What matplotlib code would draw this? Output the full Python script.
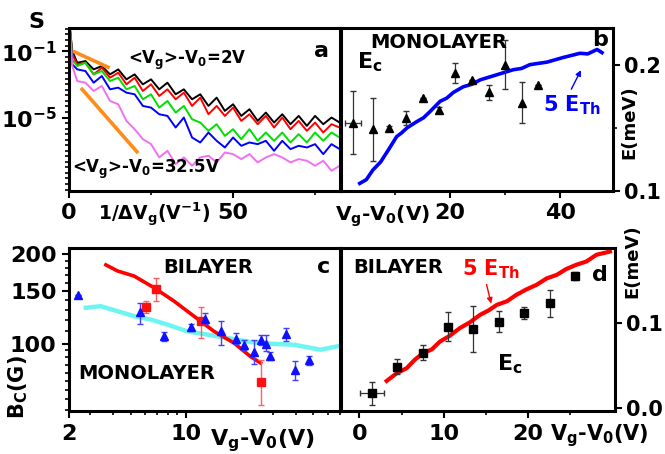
import numpy as np
import matplotlib.pyplot as plt
from matplotlib.ticker import FixedLocator, NullFormatter, FixedFormatter, LogLocator

plt.rcParams["font.family"] = ["DejaVu Sans"]
plt.rcParams["font.weight"] = "bold"
plt.rcParams["mathtext.default"] = "bf"
plt.rcParams["axes.linewidth"] = 2.2
plt.rcParams["xtick.major.width"] = 1.5
plt.rcParams["ytick.major.width"] = 1.5
plt.rcParams["xtick.minor.width"] = 1.2
plt.rcParams["ytick.minor.width"] = 1.2
plt.rcParams["xtick.major.size"] = 5
plt.rcParams["ytick.major.size"] = 5
plt.rcParams["xtick.minor.size"] = 3
plt.rcParams["ytick.minor.size"] = 3
plt.rcParams["xtick.labelsize"] = 16
plt.rcParams["ytick.labelsize"] = 16

# %% panel a : S vs 1/dVg  (log10 S)
x_a = [0.3, 1, 2.5, 5, 7.5, 10, 12.5, 15, 17.5, 20, 22.5, 25, 27.5, 30, 32.5, 35,
       37.5, 40, 42.5, 45, 47.5, 50, 52.5, 55, 57.5, 60, 62.5, 65, 67.5, 70,
       72.5, 75, 77.5, 80, 82.5]
logs_black = [0.3, -1.0, -1.7, -1.6, -2.1, -1.9, -2.4, -2.1, -2.7, -2.4, -3.0, -2.7,
              -3.3, -2.9, -3.6, -3.3, -3.9, -3.6, -4.3, -3.8, -4.6, -4.2, -4.9, -4.5,
              -5.2, -4.7, -5.3, -4.8, -5.4, -4.9, -5.5, -4.9, -5.4, -5.0, -5.3]
logs_red = [0.3, -1.2, -1.8, -1.7, -2.4, -2.0, -2.6, -2.3, -3.0, -2.6, -3.4, -3.0,
            -3.7, -3.3, -3.9, -3.5, -4.3, -3.8, -4.8, -4.3, -4.9, -4.4, -5.2, -4.8,
            -5.4, -4.9, -5.6, -5.0, -5.7, -5.2, -5.8, -5.3, -5.9, -5.4, -5.6]
logs_green = [0.3, -1.5, -1.9, -1.7, -2.4, -2.2, -2.8, -2.6, -3.3, -3.1, -3.9, -3.6,
              -4.4, -4.0, -4.7, -4.3, -5.1, -5.3, -5.8, -5.4, -6.1, -5.7, -6.3, -5.7,
              -6.4, -5.9, -6.4, -5.9, -6.5, -6.0, -6.5, -5.9, -6.4, -5.9, -6.2]
logs_blue = [0.3, -1.8, -2.1, -2.2, -2.9, -2.5, -3.3, -3.2, -3.5, -3.6, -4.3, -4.4,
             -4.8, -4.9, -5.6, -5.0, -6.2, -6.5, -5.9, -6.4, -6.8, -6.2, -6.7, -6.5,
             -6.6, -6.4, -7.0, -6.4, -6.9, -6.7, -6.8, -6.6, -7.2, -6.6, -6.9]
logs_violet = [0.3, -1.9, -2.8, -2.9, -3.4, -3.1, -4.0, -4.2, -5.2, -5.7, -6.3, -6.6,
               -7.4, -7.0, -7.8, -7.4, -7.9, -7.4, -7.3, -7.7, -7.1, -7.2, -7.5, -7.2,
               -7.7, -7.4, -7.2, -7.4, -7.7, -7.5, -7.6, -7.9, -7.6, -8.2, -7.9]
fit1_x = [1.8, 11.9]
fit1_logs = [-1.06, -1.97]
fit2_x = [4.0, 20.7]
fit2_logs = [-3.3, -7.06]

# %% panel b : monolayer energies
eth_mono_x = [3.6, 4.8, 6.0, 7.4, 8.8, 10.3, 11.2, 12.2, 14.0, 15.2, 16.4, 18.2, 19.4,
              20.6, 22.4, 24.0, 25.5, 28.5, 31.5, 33.0, 34.5, 37.6, 40.5, 43.6, 45.0,
              46.7, 47.6]
eth_mono_y = [0.106, 0.109, 0.1167, 0.123, 0.1325, 0.143, 0.146, 0.150, 0.155, 0.158,
              0.163, 0.171, 0.1735, 0.178, 0.1825, 0.1845, 0.188, 0.192, 0.196, 0.197,
              0.200, 0.202, 0.2056, 0.209, 0.2085, 0.212, 0.2095]
ec_mono_x = [2.4, 6.0, 8.9, 12.0, 15.1, 18.0, 20.9, 24.0, 27.0, 30.0, 33.0, 36.0]
ec_mono_y = [0.154, 0.149, 0.150, 0.158, 0.174, 0.164, 0.1935, 0.188, 0.178, 0.200,
             0.170, 0.1835]
ec_mono_err = [0.025, 0.025, 0.0015, 0.0057, 0.0, 0.0024, 0.008, 0.0, 0.006, 0.0196,
               0.0163, 0.0]
ec_mono_xerr = [1.5, 0, 0, 0, 0, 0, 0, 0, 0, 0, 0, 0]

# %% panel c : Bc
bc_bi_line_x = [3.66, 4.24, 5.22, 6.71, 8.63, 11.1, 14.3, 18.4, 22.6, 25.7]
bc_bi_line_y = [183.9, 175.4, 168.7, 154.2, 139.0, 123.7, 110.0, 100.5, 90.6, 86.1]
bc_mono_line_x = [2.84, 3.43, 4.24, 5.22, 6.44, 7.94, 10.2, 13.1, 16.9, 22.6, 30.4,
                  39.1, 54.7, 67.4]
bc_mono_line_y = [132.0, 133.6, 128.5, 123.7, 120.5, 115.9, 110.0, 107.3, 104.5, 101.3,
                  99.8, 99.2, 95.4, 97.9]
bc_bi_x = [6.10, 6.86, 12.1, 25.7]
bc_bi_y = [133.0, 153.0, 119.0, 74.6]
bc_bi_lo = [126.9, 139.0, 104.5, 62.2]
bc_bi_hi = [139.4, 166.7, 132.6, 88.3]
bc_mono_x = [2.58, 5.63, 7.61, 10.65, 12.7, 15.7, 18.8, 20.8, 23.8, 25.7, 27.6, 28.9,
             35.6, 39.6, 47.6]
bc_mono_y = [145.3, 128.0, 105.8, 113.5, 121.2, 110.0, 104.0, 99.2, 93.7, 103.2, 100.0,
             90.6, 107.8, 81.7, 88.3]
bc_mono_lo = [145.3, 116.6, 101.8, 110.6, 116.6, 99.2, 100.0, 95.4, 85.4, 99.2, 94.2,
              88.3, 101.8, 75.5, 84.9]
bc_mono_hi = [145.3, 137.3, 109.5, 116.6, 127.0, 119.6, 108.6, 103.2, 103.2, 107.3,
              107.3, 93.7, 113.0, 87.6, 90.6]

# %% panel d : bilayer energies
eth_bi_x = [3.24, 4.4, 5.61, 6.6, 7.57, 8.6, 9.55, 10.7, 11.9, 13.1, 14.3, 15.3, 16.3,
            17.5, 18.6, 19.8, 21.0, 22.2, 23.4, 24.5, 25.7, 26.9, 28.1, 29.7]
eth_bi_y = [0.0316, 0.0405, 0.0467, 0.0570, 0.0645, 0.0690, 0.0782, 0.0850, 0.0941,
            0.1010, 0.1098, 0.1150, 0.1217, 0.1260, 0.1335, 0.1400, 0.1454, 0.1530,
            0.1572, 0.1640, 0.1691, 0.1730, 0.1810, 0.1848]
ec_bi_x = [1.47, 4.43, 7.5, 10.46, 13.5, 16.5, 19.5, 22.6, 25.6]
ec_bi_y = [0.0171, 0.0486, 0.0652, 0.096, 0.0932, 0.1019, 0.1118, 0.1237, 0.156]
ec_bi_err = [0.0138, 0.0085, 0.0089, 0.0174, 0.027, 0.0126, 0.0073, 0.0158, 0.005]
ec_bi_xerr = [1.42, 0, 0, 0, 0, 0, 0, 0, 0]

# %%
fig = plt.figure(figsize=(6.65, 4.54), dpi=100)
ax_a = fig.add_axes([0.1038, 0.5793, 0.4075, 0.359])
ax_b = fig.add_axes([0.5128, 0.5793, 0.409, 0.359])
ax_c = fig.add_axes([0.1038, 0.0947, 0.4075, 0.359])
ax_d = fig.add_axes([0.5128, 0.0947, 0.412, 0.359])

# ---- a
for logs, col in [(logs_black, "black"), (logs_red, "#ff0000"), (logs_green, "#00e000"),
                  (logs_blue, "#0000ff"), (logs_violet, "#f070f0")]:
    ax_a.plot(x_a, 10.0 ** np.array(logs), color=col, lw=1.4)
ax_a.plot(fit1_x, 10.0 ** np.array(fit1_logs), color="#ff8c1a", lw=2.6)
ax_a.plot(fit2_x, 10.0 ** np.array(fit2_logs), color="#ff8c1a", lw=2.6)
ax_a.set_yscale("log")
ax_a.set_xlim(0, 82.6)
ax_a.set_ylim(10 ** -9.42, 10 ** 0.39)
ax_a.yaxis.set_major_locator(FixedLocator([1e-1, 1e-5]))
ax_a.yaxis.set_major_formatter(FixedFormatter([r"$10^{-1}$", r"$10^{-5}$"]))
ax_a.yaxis.set_minor_locator(LogLocator(base=10, subs=(1.0, 2.15, 4.64), numticks=40))
ax_a.yaxis.set_minor_formatter(NullFormatter())
ax_a.xaxis.set_major_locator(FixedLocator([0, 50]))
ax_a.xaxis.set_minor_locator(FixedLocator([25, 75]))
ax_a.tick_params(axis="both", which="both", pad=4)
ax_a.text(0.218, 0.778, r"<V$_g$>-V$_0$=2V", transform=ax_a.transAxes, fontsize=12,
          va="baseline")
ax_a.text(0.011, 0.111, r"<V$_g$>-V$_0$=32.5V", transform=ax_a.transAxes, fontsize=12,
          va="baseline")
ax_a.text(0.93, 0.86, "a", transform=ax_a.transAxes, fontsize=16, ha="center", va="center")
fig.text(0.054, 0.952, "S", fontsize=16, ha="center", va="center")
fig.text(0.232, 0.513, r"1/$\Delta$V$_g$(V$^{-1}$)", fontsize=13.5, ha="center",
         va="baseline")

# ---- b
ax_b.plot(eth_mono_x, eth_mono_y, color="#0000ff", lw=2.6, solid_joinstyle="round")
ax_b.errorbar(ec_mono_x, ec_mono_y, yerr=ec_mono_err, xerr=ec_mono_xerr, fmt="^",
              color="black", ms=6, ecolor="#333333", elinewidth=0.9, capsize=2)
ax_b.set_xlim(0.2, 49.6)
ax_b.set_ylim(0.1, 0.229)
ax_b.yaxis.tick_right()
ax_b.yaxis.set_major_locator(FixedLocator([0.1, 0.2]))
ax_b.yaxis.set_major_formatter(FixedFormatter(["0.1", "0.2"]))
ax_b.yaxis.set_minor_locator(FixedLocator([0.15]))
ax_b.xaxis.set_major_locator(FixedLocator([20, 40]))
ax_b.xaxis.set_minor_locator(FixedLocator([10, 30]))
ax_b.tick_params(axis="both", which="both", pad=4)
ax_b.tick_params(axis="y", labelsize=15, pad=3)
ax_b.text(0.107, 0.911, "MONOLAYER", transform=ax_b.transAxes, fontsize=14, va="center")
ax_b.text(0.952, 0.926, "b", transform=ax_b.transAxes, fontsize=16, ha="center", va="center")
ax_b.text(0.06, 0.755, r"E$_c$", transform=ax_b.transAxes, fontsize=16, va="baseline")
ax_b.text(0.743, 0.49, r"5 E$_{Th}$", transform=ax_b.transAxes, fontsize=15,
          va="baseline", color="#0000ff")
ax_b.annotate("", xy=(44.0, 0.1976), xytext=(41.8, 0.1786),
              arrowprops=dict(arrowstyle="-|>", color="#0000ff", lw=1, mutation_scale=8))
fig.text(0.575, 0.513, r"V$_g$-V$_0$(V)", fontsize=14.5, ha="center", va="baseline")
fig.text(0.947, 0.731, "E(meV)", fontsize=13, rotation=90, ha="center", va="center")

# ---- c
ax_c.plot(bc_mono_line_x, bc_mono_line_y, color="#6ff5f0", lw=3.2, solid_joinstyle="round")
ax_c.plot(bc_bi_line_x, bc_bi_line_y, color="#ff0000", lw=2.6, solid_joinstyle="round")
yerr_bi = [np.array(bc_bi_y) - np.array(bc_bi_lo), np.array(bc_bi_hi) - np.array(bc_bi_y)]
ax_c.errorbar(bc_bi_x, bc_bi_y, yerr=yerr_bi, fmt="s", color="#ff1010", ms=6,
              ecolor="#ff6060", elinewidth=1, capsize=2)
yerr_mono = [np.array(bc_mono_y) - np.array(bc_mono_lo),
             np.array(bc_mono_hi) - np.array(bc_mono_y)]
ax_c.errorbar(bc_mono_x, bc_mono_y, yerr=yerr_mono, fmt="^", color="#1010ff", ms=6,
              ecolor="#4040ff", elinewidth=1, capsize=2)
ax_c.set_xscale("log")
ax_c.set_yscale("log")
ax_c.set_xlim(2.3, 70)
ax_c.set_ylim(59.4, 209.5)
ax_c.xaxis.set_major_locator(FixedLocator([2.3, 10]))
ax_c.xaxis.set_major_formatter(FixedFormatter(["2", "10"]))
ax_c.xaxis.set_minor_locator(FixedLocator([3, 4, 5, 6, 7, 8, 9, 20, 30, 40, 50, 60, 70]))
ax_c.xaxis.set_minor_formatter(NullFormatter())
ax_c.yaxis.set_major_locator(FixedLocator([100, 150, 200]))
ax_c.yaxis.set_major_formatter(FixedFormatter(["100", "150", "200"]))
ax_c.yaxis.set_minor_locator(FixedLocator([60, 65, 70, 75, 80, 85, 90, 95, 110, 120, 130,
                                           140, 160, 170, 180, 190]))
ax_c.yaxis.set_minor_formatter(NullFormatter())
ax_c.tick_params(axis="both", which="both", pad=4)
ax_c.text(0.347, 0.88, "BILAYER", transform=ax_c.transAxes, fontsize=14, va="center")
ax_c.text(0.033, 0.233, "MONOLAYER", transform=ax_c.transAxes, fontsize=14, va="center")
ax_c.text(0.94, 0.883, "c", transform=ax_c.transAxes, fontsize=16, ha="center", va="center")
fig.text(0.394, 0.02, r"V$_g$-V$_0$(V)", fontsize=16, ha="center", va="baseline")
fig.text(0.027, 0.148, r"B$_C$(G)", fontsize=15, rotation=90, ha="center", va="center")

# ---- d
ax_d.plot(eth_bi_x, eth_bi_y, color="#ff0000", lw=3.0, solid_joinstyle="round")
ax_d.errorbar(ec_bi_x, ec_bi_y, yerr=ec_bi_err, xerr=ec_bi_xerr, fmt="s", color="black",
              ms=5.5, ecolor="#333333", elinewidth=0.9, capsize=2)
ax_d.set_xlim(-2.17, 30.3)
ax_d.set_ylim(-0.004, 0.189)
ax_d.yaxis.tick_right()
ax_d.yaxis.set_major_locator(FixedLocator([0.0, 0.1]))
ax_d.yaxis.set_major_formatter(FixedFormatter(["0.0", "0.1"]))
ax_d.xaxis.set_major_locator(FixedLocator([0, 10, 20]))
ax_d.xaxis.set_minor_locator(FixedLocator([5, 15, 25]))
ax_d.tick_params(axis="both", which="both", pad=4)
ax_d.tick_params(axis="y", labelsize=15, pad=3)
ax_d.text(0.044, 0.88, "BILAYER", transform=ax_d.transAxes, fontsize=14, va="center")
ax_d.text(0.44, 0.834, r"5 E$_{Th}$", transform=ax_d.transAxes, fontsize=15,
          va="baseline", color="#ff0000")
ax_d.annotate("", xy=(15.7, 0.120), xytext=(15.0, 0.149),
              arrowprops=dict(arrowstyle="-|>", color="#ff0000", lw=1, mutation_scale=8))
ax_d.text(0.945, 0.834, "d", transform=ax_d.transAxes, fontsize=16, ha="center", va="center")
ax_d.text(0.569, 0.25, r"E$_c$", transform=ax_d.transAxes, fontsize=16, va="baseline")
fig.text(0.902, 0.031, r"V$_g$-V$_0$(V)", fontsize=15, ha="center", va="baseline")
fig.text(0.951, 0.425, "E(meV)", fontsize=13, rotation=90, ha="center", va="center")

fig.savefig("out.png", dpi=100)
